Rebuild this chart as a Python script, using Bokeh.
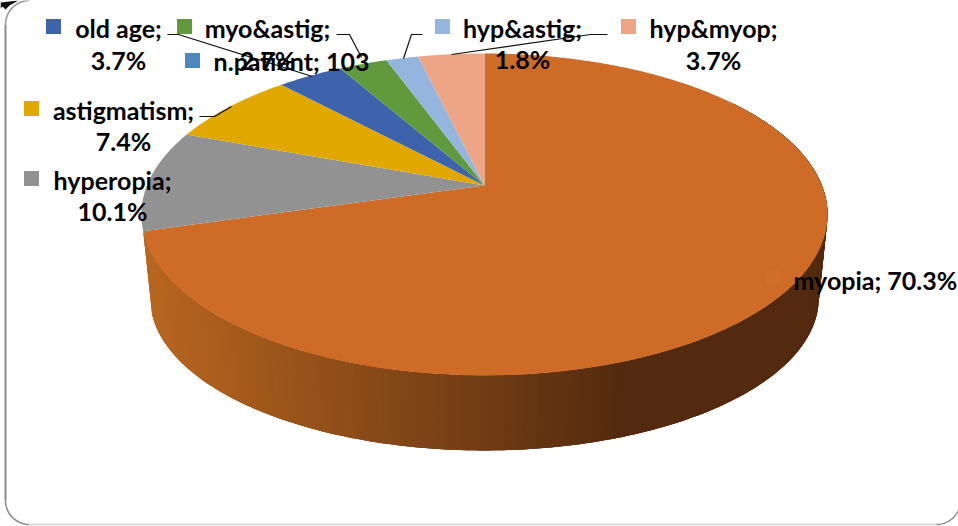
import numpy as np
from bokeh.embed import file_html
from bokeh.models import ColumnDataSource
from bokeh.plotting import figure
from bokeh.resources import INLINE
from bokeh.core.properties import value

# Refractive condition shares, clockwise from twelve o'clock
categories = ["myopia", "hyperopia", "astigmatism", "old age", "myo&astig", "hyp&astig", "hyp&myop"]
shares = [70.3, 10.1, 7.4, 3.7, 2.7, 1.8, 3.7]
slice_colors = ["#CE6B27", "#929292", "#E0A800", "#3C63AC", "#619A3C", "#94B6DE", "#EDA586"]
patients = 103

FONT = value("Lato")
FONT_SIZE = "25px"

# Perspective of the disc: apex, half width, tilt
APEX_X, APEX_Y = 484.0, 185.0
HALF_W, TILT, LIFT = 337.5, 0.18, -122.45
# Lower rim relative to the upper rim
RIM_TOP_Y, RIM_LOW_Y = 214.0, 298.0
RIM_SX, RIM_SY = 0.974, 0.944


def project(theta):
    """Clockwise angle from the top (radians) to canvas position on the upper face."""
    u, v = np.sin(theta), np.cos(theta)
    d = 1 + TILT * v
    return APEX_X + HALF_W * u / d, (LIFT * v + APEX_Y) / d


def lower_rim(x, y):
    return APEX_X + (x - APEX_X) * RIM_SX, RIM_LOW_Y + (y - RIM_TOP_Y) * RIM_SY


def wall_color(x):
    t = np.clip((x - 150.0) / 480.0, 0, 1)
    a, b = np.array([0xB8, 0x66, 0x20]), np.array([0x53, 0x2A, 0x0F])
    return "#%02X%02X%02X" % tuple(int(c) for c in a + (b - a) * t)


p = figure(width=958, height=526, x_range=(0, 958), y_range=(526, 0),
           output_backend="svg", toolbar_location=None, min_border=0,
           background_fill_color="white")
p.axis.visible = False
p.grid.visible = False
p.outline_line_color = None

# Rounded frame of the chart area
arc = np.linspace(0, np.pi / 2, 24)
r = 24.0
p.line(5 + r - r * np.sin(arc[::-1]), r - r * np.cos(arc[::-1]), line_color="#9A9A9A", line_width=1.6)
p.line([5, 5], [r, 524 - r], line_color="#8C8C8C", line_width=2)
p.line(5 + r - r * np.cos(arc), 524 - r + r * np.sin(arc), line_color="#8C8C8C", line_width=1.6)
p.line([5 + r, 936], [524, 524], line_color="#D4D4D4", line_width=1.5)
corner = np.linspace(0, np.arcsin(22 / 24), 16)
p.line(936 + r * np.sin(corner), 500 + r * np.cos(corner), line_color="#8C8C8C", line_width=1.4)

# Small scrap of ink at the frame's corner
p.patch([0, 18, 9, 5, 2, 0], [2, 0, 5, 9, 6, 8], fill_color="#111111", line_color=None)

total = sum(shares)
edges = np.concatenate([[0.0], np.cumsum(shares)]) / total * 2 * np.pi

# Outer wall of the largest slice: overlapping quads painted in order, so the shade
# runs across it without seams between the steps
wall_angles = np.linspace(np.pi * 0.30, edges[1], 200)
wx, wy, wc = [], [], []
for i in range(len(wall_angles) - 1):
    a0, a1 = wall_angles[i], wall_angles[min(i + 3, len(wall_angles) - 1)]
    t = np.linspace(a0, a1, 4)
    x, y = project(t)
    lx, ly = lower_rim(x, y)
    wx.append(np.concatenate([x, lx[::-1]]).tolist())
    wy.append(np.concatenate([y, ly[::-1]]).tolist())
    wc.append(wall_color(project(wall_angles[i])[0]))
p.patches("x", "y", source=ColumnDataSource(dict(x=wx, y=wy, c=wc)),
          fill_color="c", line_color=None)

# Upper face of the disc
sx, sy = [], []
for a0, a1 in zip(edges[:-1], edges[1:]):
    t = np.linspace(a0, a1, max(int((a1 - a0) * 80), 6))
    x, y = project(t)
    sx.append(np.concatenate([[APEX_X], x]).tolist())
    sy.append(np.concatenate([[APEX_Y], y]).tolist())
p.patches("x", "y", source=ColumnDataSource(dict(x=sx, y=sy, c=slice_colors)),
          fill_color="c", line_color=None)

# Leader lines from the labels to their slices
leaders = [
    ([167, 178, 312], [34, 34, 76]),
    ([336, 349, 361], [34, 34, 57]),
    ([422, 411, 403], [34, 34, 58]),
    ([607, 590, 451], [34, 34, 54]),
    ([199, 214, 231], [116, 116, 106]),
]
for lx, ly in leaders:
    p.line(lx, ly, line_color="#111111", line_width=1.2)

# Legend keys placed beside each label
key_x = [772, 31, 31, 53, 184, 442, 628, 192]
key_y = [277, 178, 108, 26, 26, 26, 26, 60]
key_c = ["#D06E2A", "#929292", "#E0A800", "#3C63AC", "#619A3C", "#94B6DE", "#EDA586", "#4F88BF"]
p.scatter(key_x, key_y, marker="square", size=15, fill_color=key_c, line_color=None)

# Labels: name line and percentage line
pct = [f"{s}%" for s in shares]
name_x = [None, 112, 123, 118, 267, 522, 713]
name_y = [None, 179, 109, 27, 27, 27, 27]
pct_y = [None, 210, 140, 59, 59, 58, 59]
tx, ty, tt = [], [], []
for i, cat in enumerate(categories):
    if name_x[i] is None:
        continue
    tx += [name_x[i], name_x[i]]
    ty += [name_y[i], pct_y[i]]
    tt += [f"{cat};", pct[i]]
tx.append(291)
ty.append(60)
tt.append(f"n.patient; {patients}")
p.text(tx, ty, text=tt, text_font=FONT, text_font_size=FONT_SIZE, text_font_style="bold",
       text_align="center", text_baseline="middle", text_color="#000000")
p.text([793], [279], text=[f"{categories[0]}; {pct[0]}"], text_font=FONT, text_font_size=FONT_SIZE,
       text_font_style="bold", text_align="left", text_baseline="middle", text_color="#000000")

open("out.html", "w").write(file_html(p, INLINE))
